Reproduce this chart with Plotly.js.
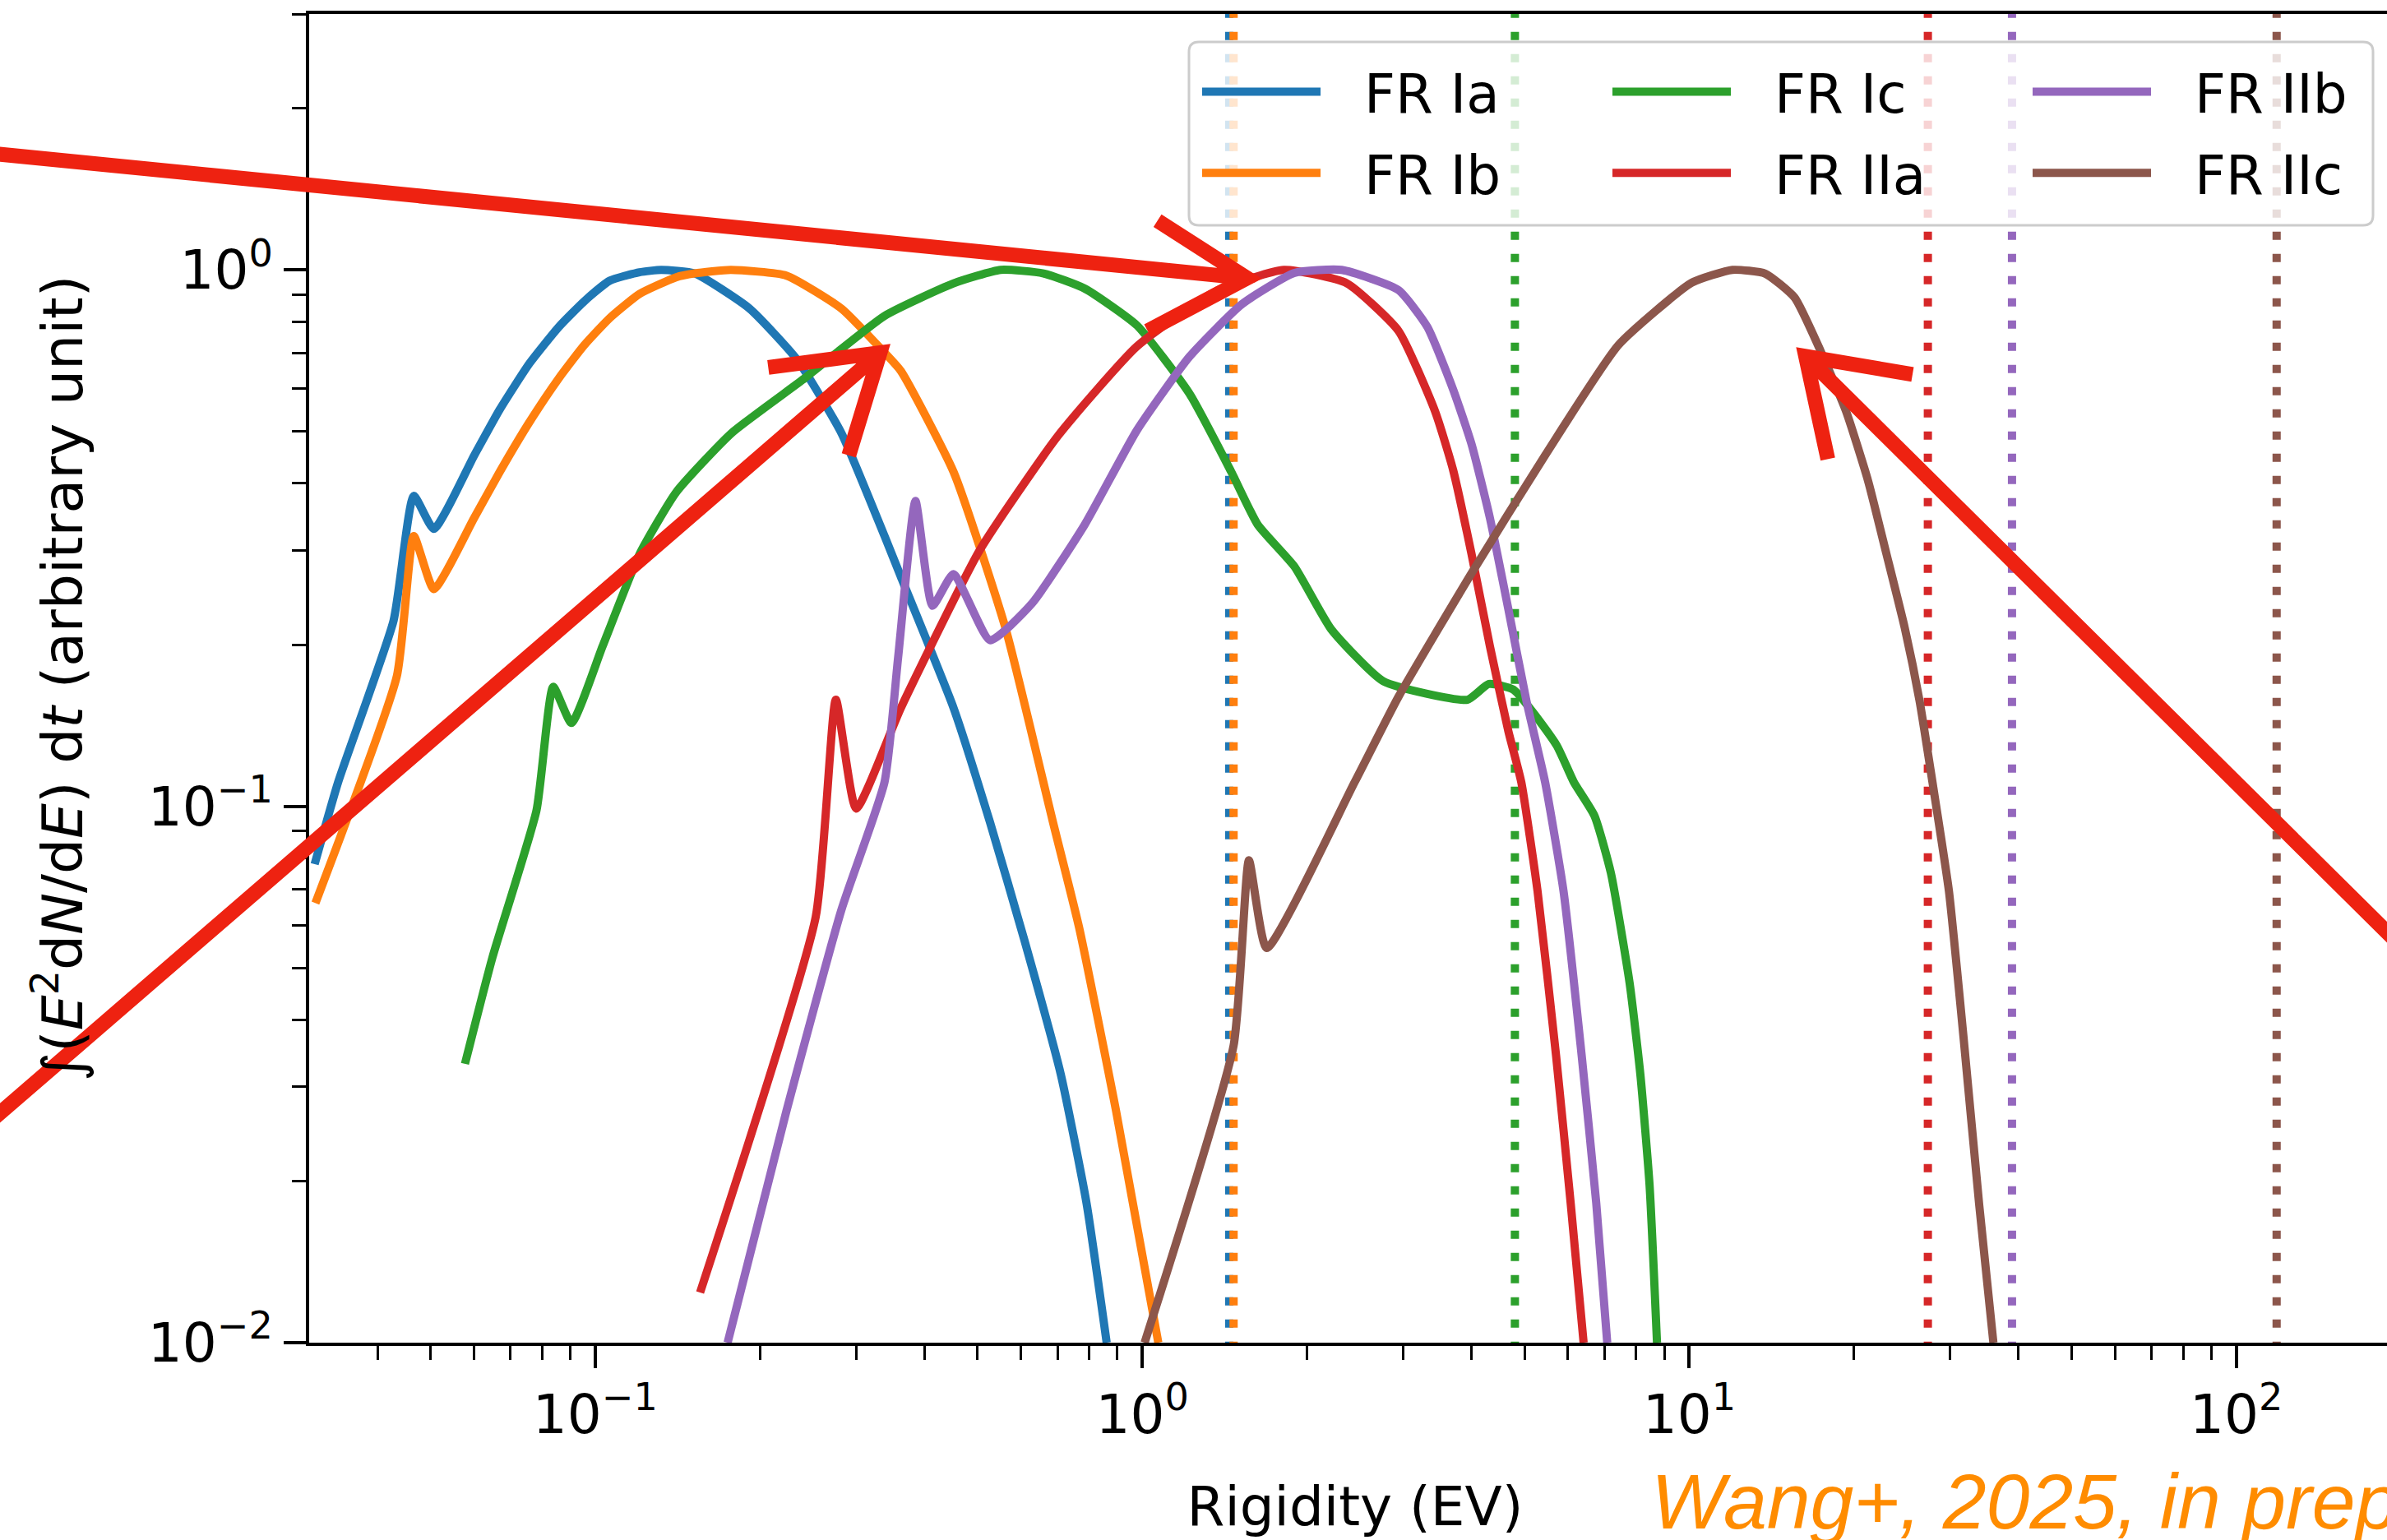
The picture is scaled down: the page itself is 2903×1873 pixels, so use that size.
<!DOCTYPE html>
<html>
<head>
<meta charset="utf-8">
<script src="https://cdn.plot.ly/plotly-3.0.1.min.js"></script>
<style>html,body{margin:0;padding:0;overflow:hidden;background:#fff}</style>
</head>
<body>
<div id="chart"></div>
<script>
// ---------------- data ----------------
const seriesNames  = ['FR Ia', 'FR Ib', 'FR Ic', 'FR IIa', 'FR IIb', 'FR IIc'];
const seriesColors = ['#1f77b4', '#ff7f0e', '#2ca02c', '#d62728', '#9467bd', '#8c564b'];

// Rigidity (EV) and integrated spectrum (arbitrary unit)
const rigIa  = [0.0307, 0.0339, 0.0428, 0.0466, 0.0507, 0.0601, 0.0669, 0.0758, 0.0858, 0.0955, 0.1064, 0.1205, 0.132, 0.152, 0.1915, 0.234, 0.282, 0.338, 0.362, 0.452, 0.527, 0.608, 0.710, 0.791, 0.861];
const valIa  = [0.078, 0.111, 0.222, 0.379, 0.329, 0.451, 0.549, 0.669, 0.783, 0.874, 0.955, 0.99, 1.0, 0.985, 0.847, 0.68, 0.496, 0.319, 0.268, 0.1525, 0.0933, 0.0566, 0.0316, 0.0182, 0.01];

const rigIb  = [0.0308, 0.0434, 0.0466, 0.0507, 0.0601, 0.0669, 0.0758, 0.0858, 0.0955, 0.1064, 0.1205, 0.1406, 0.152, 0.177, 0.2236, 0.282, 0.338, 0.362, 0.452, 0.563, 0.687, 0.767, 0.896, 1.07];
const valIb  = [0.066, 0.175, 0.319, 0.254, 0.345, 0.42, 0.52, 0.628, 0.724, 0.814, 0.902, 0.969, 0.985, 1.0, 0.976, 0.847, 0.701, 0.648, 0.42, 0.214, 0.0933, 0.0593, 0.027, 0.01];

const rigIc  = [0.0578, 0.0649, 0.0781, 0.0838, 0.0905, 0.1032, 0.1205, 0.1406, 0.1774, 0.2415, 0.338, 0.452, 0.551, 0.66, 0.785, 0.978, 1.22, 1.455, 1.626, 1.897, 2.214, 2.76, 3.93, 4.30, 4.77, 5.72, 6.15, 6.71, 7.19, 7.78, 8.14, 8.46, 8.73];
const valIc  = [0.0331, 0.0523, 0.0982, 0.167, 0.143, 0.199, 0.295, 0.385, 0.496, 0.628, 0.821, 0.944, 1.0, 0.985, 0.923, 0.788, 0.588, 0.42, 0.335, 0.28, 0.214, 0.171, 0.158, 0.169, 0.165, 0.130, 0.111, 0.096, 0.0751, 0.0468, 0.0316, 0.0197, 0.01];

const rigIIa = [0.1555, 0.253, 0.2754, 0.2999, 0.362, 0.504, 0.702, 0.978, 1.362, 1.815, 2.366, 2.94, 3.43, 3.70, 4.0, 4.32, 4.67, 4.93, 5.28, 5.71, 6.07, 6.41];
const valIIa = [0.0124, 0.0622, 0.158, 0.099, 0.1525, 0.2996, 0.491, 0.72, 0.912, 1.0, 0.944, 0.77, 0.545, 0.424, 0.295, 0.199, 0.138, 0.111, 0.0695, 0.0342, 0.0182, 0.01];

const rigIIb = [0.1746, 0.2236, 0.282, 0.338, 0.358, 0.385, 0.4135, 0.4517, 0.527, 0.629, 0.785, 0.978, 1.22, 1.521, 1.897, 2.315, 2.94, 3.32, 3.70, 4.0, 4.32, 4.67, 5.04, 5.45, 5.89, 6.36, 6.76, 7.08];
const valIIb = [0.01, 0.027, 0.0642, 0.111, 0.19, 0.371, 0.2364, 0.271, 0.204, 0.239, 0.335, 0.5025, 0.689, 0.863, 0.987, 1.0, 0.917, 0.783, 0.599, 0.473, 0.345, 0.233, 0.157, 0.111, 0.0695, 0.0342, 0.0182, 0.01];

const rigIIc = [1.01, 1.469, 1.567, 1.688, 2.446, 2.94, 4.0, 5.45, 7.42, 10.1, 11.99, 13.77, 15.58, 17.37, 19.35, 21.23, 22.94, 24.77, 26.37, 27.83, 29.83, 31.73, 33.88, 35.97];
const valIIc = [0.01, 0.0358, 0.0793, 0.0544, 0.111, 0.16, 0.272, 0.451, 0.724, 0.946, 1.0, 0.984, 0.888, 0.707, 0.545, 0.404, 0.295, 0.215, 0.157, 0.111, 0.0695, 0.037, 0.0181, 0.01];

// cut-off rigidities (dotted vertical lines), one per series
const cutoffs = [1.442, 1.469, 4.80, 27.3, 38.9, 118.5];

// axis ticks
const xMajorVals = [0.1, 1, 10, 100];
const xMajorText = ['10<sup>−1</sup>', '10<sup>0</sup>', '10<sup>1</sup>', '10<sup>2</sup>'];
const yMajorVals = [0.01, 0.1, 1];
const yMajorText = ['10<sup>−2</sup>', '10<sup>−1</sup>', '10<sup>0</sup>'];

const xTitle = 'Rigidity (EV)';
const yTitle = '∫(<i>E</i><sup>2</sup>d<i>N</i>/d<i>E</i>) d<i>t</i> (arbitrary unit)';
const creditText = 'Wang+, 2025, in prep';

// points the hand-drawn red arrows aim at (rigidity, value)
const arrowTargetRig = [1.555, 0.3317, 16.32];
const arrowTargetVal = [0.965, 0.701, 0.690];

// ---------------- build ----------------
const rigAll = [rigIa, rigIb, rigIc, rigIIa, rigIIb, rigIIc];
const valAll = [valIa, valIb, valIc, valIIa, valIIb, valIIc];
const legendOf = ['legend', 'legend', 'legend2', 'legend2', 'legend3', 'legend3'];

const X_RANGE = [Math.log10(0.03), Math.log10(200)];
const Y_RANGE = [-2, Math.log10(3)];

function minorTicks(lo, hi) {
  const out = [];
  for (let d = -3; d <= 3; d++) for (let k = 2; k <= 9; k++) {
    const v = k * Math.pow(10, d);
    if (v > lo && v < hi) out.push(v);
  }
  return out;
}

const FONT = 'DejaVu Sans';
const FS = 66;
const LW = 10;

const traces = [];
seriesNames.forEach((name, i) => {
  traces.push({
    x: rigAll[i], y: valAll[i], name: name, type: 'scatter', mode: 'lines',
    line: {color: seriesColors[i], width: LW, shape: 'spline', smoothing: 0.5},
    legend: legendOf[i], legendgroup: name, hoverinfo: 'skip'
  });
  traces.push({
    x: [cutoffs[i], cutoffs[i]], y: [1e-4, 1e2], type: 'scatter', mode: 'lines',
    line: {color: seriesColors[i], width: LW, dash: '10px,17px'},
    showlegend: false, hoverinfo: 'skip'
  });
});

const W = 3000, H = 1873;
const M = {l: 376, r: 80, t: 17, b: 240};
const PW = W - M.l - M.r, PH = H - M.t - M.b;
const px2paperX = p => (p - M.l) / PW;
const px2paperY = p => (H - M.b - p) / PH;
const dataPaperX = r => (Math.log10(r) - X_RANGE[0]) / (X_RANGE[1] - X_RANGE[0]);
const dataPaperY = v => (Math.log10(v) - Y_RANGE[0]) / (Y_RANGE[1] - Y_RANGE[0]);

function legendAt(xpx) {
  return {
    x: px2paperX(xpx), xanchor: 'left', y: px2paperY(62), yanchor: 'top',
    orientation: 'v', bgcolor: 'rgba(0,0,0,0)', borderwidth: 0,
    font: {family: FONT, size: FS, color: '#000'},
    itemwidth: 192, tracegroupgap: 10
  };
}

// hand-drawn arrow strokes, as pixel offsets from each tip (screen y downwards)
const RED = '#EE2211';
const arrowStyle = [
  {shaft: [-1600, -159], barbs: [[-109, -70], [-121, 64]]},
  {shaft: [-1250, 1080], barbs: [[-136, 18], [-38, 125]]},
  {shaft: [850, 842],   barbs: [[130, 22], [27, 125]]}
];
const shapes = [];
// legend frame (rounded)
(function () {
  const x0 = 1446, x1 = 2886, y0 = 51, y1 = 274, r = 12;
  const w = x1 - x0, h = y1 - y0;
  const p = `M${r},0 H${w - r} Q${w},0 ${w},${-r} V${-(h - r)} Q${w},${-h} ${w - r},${-h} H${r} Q0,${-h} 0,${-(h - r)} V${-r} Q0,0 ${r},0 Z`;
  shapes.push({type: 'path', xref: 'paper', yref: 'paper', xsizemode: 'pixel', ysizemode: 'pixel',
    xanchor: px2paperX(x0), yanchor: px2paperY(y0), path: p, layer: 'above',
    fillcolor: 'rgba(255,255,255,0.8)', line: {color: '#cccccc', width: 3}});
})();
arrowStyle.forEach((a, i) => {
  const p = `M${a.shaft[0]},${-a.shaft[1]} L0,0 M${a.barbs[0][0]},${-a.barbs[0][1]} L0,0 L${a.barbs[1][0]},${-a.barbs[1][1]}`;
  shapes.push({type: 'path', xref: 'paper', yref: 'paper', xsizemode: 'pixel', ysizemode: 'pixel',
    xanchor: dataPaperX(arrowTargetRig[i]), yanchor: dataPaperY(arrowTargetVal[i]),
    path: p, layer: 'above', fillcolor: 'rgba(0,0,0,0)', line: {color: RED, width: 18}});
});

const annotations = [{
  xref: 'paper', yref: 'paper', x: px2paperX(2006), xanchor: 'left',
  y: px2paperY(1826), yanchor: 'middle', showarrow: false,
  text: '<i>' + creditText + '</i>',
  font: {family: 'Liberation Sans', size: 95, color: '#FF8C00'}
}];

const axisCommon = {
  type: 'log', showgrid: false, zeroline: false,
  showline: true, linecolor: '#000', linewidth: 4, mirror: true,
  ticks: 'outside', ticklen: 27, tickwidth: 4, tickcolor: '#000',
  tickmode: 'array',
  tickfont: {family: FONT, size: FS, color: '#000'},
  automargin: false
};

const layout = {
  width: W, height: H, margin: Object.assign({pad: 0}, M),
  paper_bgcolor: '#fff', plot_bgcolor: '#fff',
  font: {family: FONT, size: FS, color: '#000'},
  showlegend: true,
  xaxis: Object.assign({}, axisCommon, {
    range: X_RANGE,
    tickvals: xMajorVals, ticktext: xMajorText,
    minor: {tickmode: 'array', tickvals: minorTicks(0.03, 200), ticks: 'outside', ticklen: 17, tickwidth: 3, tickcolor: '#000', showgrid: false},
    title: {text: xTitle, font: {family: FONT, size: FS, color: '#000'}, standoff: 52}
  }),
  yaxis: Object.assign({}, axisCommon, {
    range: Y_RANGE,
    tickvals: yMajorVals, ticktext: yMajorText,
    minor: {tickmode: 'array', tickvals: minorTicks(0.01, 3.01), ticks: 'outside', ticklen: 17, tickwidth: 3, tickcolor: '#000', showgrid: false},
    title: {text: yTitle, font: {family: FONT, size: 68, color: '#000'}, standoff: 58}
  }),
  legend: legendAt(1457),
  legend2: legendAt(1956),
  legend3: legendAt(2467),
  shapes: shapes,
  annotations: annotations
};

Plotly.newPlot('chart', traces, layout, {displayModeBar: false, staticPlot: true}).then(gd => {
  // matplotlib-style legend handles: 144px line, text further right
  gd.querySelectorAll('.legendlines path').forEach(p => p.setAttribute('d', 'M5,0h144'));
});
</script>
</body>
</html>
